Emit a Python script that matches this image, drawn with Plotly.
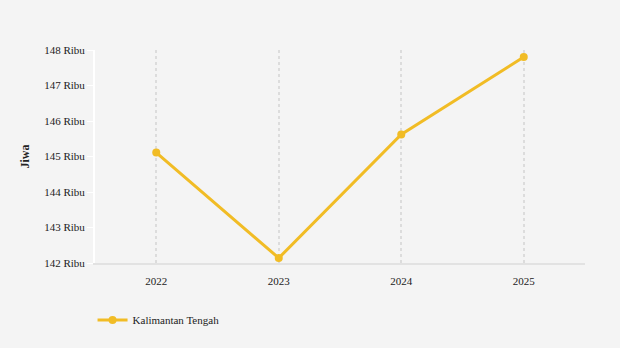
import plotly.graph_objects as go

years = [2022, 2023, 2024, 2025]
values = [145110, 142140, 145620, 147800]
series_name = "Kalimantan Tengah"
tick_vals = [142000, 143000, 144000, 145000, 146000, 147000, 148000]
tick_text = ["142 Ribu", "143 Ribu", "144 Ribu", "145 Ribu", "146 Ribu", "147 Ribu", "148 Ribu"]

fig = go.Figure()
fig.add_trace(go.Scatter(
    x=years, y=values, name=series_name, mode="lines+markers",
    line=dict(color="#f1bc25", width=3),
    marker=dict(color="#f1bc25", size=8),
))

font = "Liberation Serif, Times New Roman, serif"
fig.update_layout(
    width=620, height=348,
    margin=dict(l=95, r=35, t=50, b=85),
    paper_bgcolor="#f4f4f4", plot_bgcolor="#f4f4f4",
    font=dict(family=font, size=11, color="#222"),
    showlegend=True,
    legend=dict(orientation="h", x=-0.005, xanchor="left", y=-0.2, yanchor="top",
                font=dict(size=11), bgcolor="rgba(0,0,0,0)"),
    xaxis=dict(
        range=[2021.5, 2025.5], tickvals=years, ticktext=[str(y) for y in years],
        showgrid=True, gridcolor="#dcdcdc", griddash="3px,3px", gridwidth=1.5,
        showline=True, linecolor="#e2e2e2", linewidth=2,
        ticks="outside", tickcolor="rgba(0,0,0,0)", ticklen=7,
        zeroline=False, fixedrange=True,
    ),
    yaxis=dict(
        range=[142000, 148000], tickvals=tick_vals, ticktext=tick_text,
        showgrid=False, zeroline=False,
        showline=True, linecolor="#ffffff", linewidth=2,
        ticks="outside", tickcolor="#ffffff", ticklen=6, tickwidth=1,
        title=dict(text="<b>Jiwa</b>", font=dict(size=12), standoff=12),
    ),
)

fig.write_html("out.html")
